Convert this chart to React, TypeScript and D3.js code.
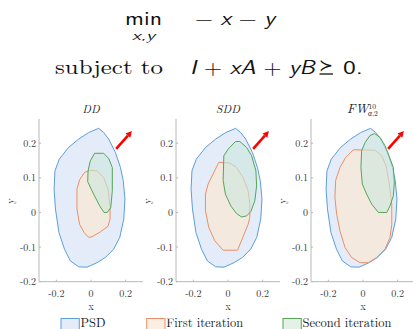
import React, { useEffect, useRef } from 'react'
import * as d3 from 'd3'

type Pt = [number, number]

// PSD region, same in all three panels
const psdRegion: Pt[] = [
  [0.044, 0.243], [-0.013, 0.231], [-0.071, 0.212], [-0.129, 0.188], [-0.183, 0.154],
  [-0.208, 0.120], [-0.213, 0.067], [-0.205, 0.010], [-0.185, -0.058], [-0.153, -0.106],
  [-0.119, -0.140], [-0.071, -0.157], [-0.023, -0.158], [0.035, -0.145], [0.083, -0.130],
  [0.131, -0.106], [0.166, -0.072], [0.189, -0.019], [0.196, 0.039], [0.186, 0.092],
  [0.170, 0.130], [0.141, 0.173], [0.102, 0.212], [0.073, 0.231],
]

// DD
const ddFirst: Pt[] = [
  [-0.004, 0.122], [0.035, 0.120], [0.073, 0.101], [0.098, 0.067], [0.110, 0.019],
  [0.110, -0.019], [0.098, -0.040], [0.054, -0.056], [0.006, -0.070], [-0.013, -0.072],
  [-0.040, -0.058], [-0.066, -0.034], [-0.081, 0.010], [-0.081, 0.067], [-0.066, 0.094],
  [-0.037, 0.116],
]
const ddSecond: Pt[] = [
  [0.021, 0.171], [0.073, 0.171], [0.102, 0.156], [0.123, 0.130], [0.123, 0.063],
  [0.114, 0.014], [0.094, 0.0], [0.075, 0.0], [0.050, 0.019], [0.015, 0.053],
  [-0.019, 0.089], [-0.017, 0.120], [-0.004, 0.149],
]

// SDD
const sddFirst: Pt[] = [
  [-0.053, 0.145], [0.010, 0.143], [0.049, 0.130], [0.087, 0.101], [0.116, 0.063],
  [0.126, 0.024], [0.126, -0.014], [0.116, -0.034], [0.093, -0.063], [0.055, -0.109],
  [-0.028, -0.109], [-0.076, -0.082], [-0.111, -0.043], [-0.130, 0.005], [-0.130, 0.053],
  [-0.115, 0.082], [-0.086, 0.111],
]
const sddSecond: Pt[] = [
  [0.043, 0.205], [0.068, 0.205], [0.107, 0.188], [0.136, 0.164], [0.161, 0.120],
  [0.165, 0.077], [0.155, 0.034], [0.132, 0.003], [0.107, -0.010], [0.078, -0.013],
  [0.049, -0.003], [0.016, 0.019], [-0.015, 0.053], [-0.028, 0.092], [-0.024, 0.164],
  [0.001, 0.183],
]

// FW
const fwFirst: Pt[] = [
  [-0.056, 0.181], [0.069, 0.180], [0.108, 0.164], [0.133, 0.135], [0.150, 0.087],
  [0.166, 0.024], [0.166, -0.034], [0.156, -0.072], [0.127, -0.106], [0.079, -0.130],
  [0.031, -0.145], [-0.017, -0.145], [-0.066, -0.130], [-0.104, -0.101], [-0.133, -0.053],
  [-0.152, -0.005], [-0.162, 0.043], [-0.158, 0.092], [-0.133, 0.130], [-0.100, 0.159],
]
const fwSecond: Pt[] = [
  [0.066, 0.228], [0.098, 0.217], [0.127, 0.193], [0.150, 0.164], [0.175, 0.130],
  [0.181, 0.087], [0.175, 0.048], [0.156, 0.019], [0.137, 0.0], [0.089, 0.0],
  [0.050, 0.024], [0.021, 0.053], [-0.004, 0.082], [-0.012, 0.130], [-0.008, 0.178],
  [0.012, 0.202], [0.040, 0.222],
]

// objective direction arrow
const arrowFrom: Pt = [0.145, 0.184]
const arrowTo: Pt = [0.236, 0.235]

const xTicks = [-0.2, 0, 0.2]
const yTicks = [-0.2, -0.1, 0, 0.1, 0.2]
const xDomain: Pt = [-0.3, 0.3]
const yDomain: Pt = [-0.2, 0.27]

const legendLabels = ['PSD', 'First iteration', 'Second iteration']

const panels = [
  { name: 'DD', first: ddFirst, second: ddSecond },
  { name: 'SDD', first: sddFirst, second: sddSecond },
  { name: 'FW', first: fwFirst, second: fwSecond },
]

const styles = [
  { stroke: '#5b9fd8', fill: '#e4ecf9', box: '#e4ecf9' },
  { stroke: '#ea8f6a', fill: 'rgba(251,232,212,0.7)', box: '#fceee2' },
  { stroke: '#56a556', fill: 'rgba(204,231,221,0.6)', box: '#e3f1e6' },
]

const W = 413
const H = 329
const serif = "'Latin Modern Roman', 'Liberation Serif', serif"
const sans = "'Latin Modern Sans', 'DejaVu Sans', sans-serif"

const fmt = (t: number) => (t === 0 ? '0' : d3.format('.1f')(t).replace('−', '-'))

const App = () => {
  const ref = useRef<SVGGElement>(null)

  useEffect(() => {
    const root = d3.select(ref.current)
    root.selectAll('*').remove()

    const panelLeft = [39, 176, 311]
    const plotW = 104
    const top = 119
    const bottom = 281.7

    panels.forEach((p, i) => {
      const x = d3.scaleLinear().domain(xDomain).range([panelLeft[i], panelLeft[i] + plotW])
      const y = d3.scaleLinear().domain(yDomain).range([bottom, top])
      const g = root.append('g')

      const line = d3.line<Pt>()
        .x(d => x(d[0]))
        .y(d => y(d[1]))
        .curve(d3.curveLinearClosed)

      const regions = [psdRegion, p.first, p.second]
      regions.forEach((r, k) => {
        g.append('path')
          .attr('d', line(r))
          .attr('fill', styles[k].fill)
          .attr('stroke', styles[k].stroke)
          .attr('stroke-width', 1)
          .attr('stroke-linejoin', 'round')
      })

      // arrow
      const x1 = x(arrowFrom[0]), y1 = y(arrowFrom[1])
      const x2 = x(arrowTo[0]), y2 = y(arrowTo[1])
      const len = Math.hypot(x2 - x1, y2 - y1)
      const ux = (x2 - x1) / len, uy = (y2 - y1) / len
      const head = 6, hw = 3.2
      const bx = x2 - ux * head, by = y2 - uy * head
      g.append('line')
        .attr('x1', x1).attr('y1', y1)
        .attr('x2', bx).attr('y2', by)
        .attr('stroke', '#ff0000')
        .attr('stroke-width', 2.6)
      g.append('path')
        .attr('d', `M${x2},${y2}L${bx - uy * hw},${by + ux * hw}L${bx + uy * hw},${by - ux * hw}Z`)
        .attr('fill', '#ff0000')

      // axes (left + bottom only)
      const axisColor = '#b8b8b8'
      g.append('line')
        .attr('x1', panelLeft[i]).attr('x2', panelLeft[i])
        .attr('y1', top).attr('y2', bottom)
        .attr('stroke', axisColor)
      g.append('line')
        .attr('x1', panelLeft[i]).attr('x2', panelLeft[i] + plotW)
        .attr('y1', bottom).attr('y2', bottom)
        .attr('stroke', axisColor)

      yTicks.forEach(t => {
        g.append('line')
          .attr('x1', panelLeft[i]).attr('x2', panelLeft[i] + 2)
          .attr('y1', y(t)).attr('y2', y(t))
          .attr('stroke', axisColor)
        g.append('text')
          .attr('x', panelLeft[i] - 3)
          .attr('y', y(t))
          .attr('dy', '0.35em')
          .attr('text-anchor', 'end')
          .style('font-family', serif)
          .attr('font-size', 10)
          .attr('fill', '#333')
          .text(fmt(t))
      })
      xTicks.forEach(t => {
        g.append('line')
          .attr('x1', x(t)).attr('x2', x(t))
          .attr('y1', bottom).attr('y2', bottom - 2)
          .attr('stroke', axisColor)
        g.append('text')
          .attr('x', x(t))
          .attr('y', 296.5)
          .attr('text-anchor', 'middle')
          .style('font-family', serif)
          .attr('font-size', 10)
          .attr('fill', '#333')
          .text(fmt(t))
      })

      // axis labels
      g.append('text')
        .attr('x', x(0))
        .attr('y', 309.5)
        .attr('text-anchor', 'middle')
        .style('font-family', serif)
        .attr('font-size', 10.5)
        .attr('fill', '#333')
        .text('x')
      g.append('text')
        .attr('transform', `translate(${panelLeft[i] - 29},201) rotate(-90)`)
        .attr('text-anchor', 'middle')
        .attr('dy', '0.35em')
        .style('font-family', serif)
        .attr('font-size', 10.5)
        .attr('fill', '#333')
        .text('y')

      // panel title
      const title = g.append('text')
        .attr('y', 113)
        .style('font-family', serif)
        .attr('font-style', 'italic')
        .attr('fill', '#222')
      if (p.name === 'FW') {
        title.attr('x', x(0) - 16).attr('font-size', 13)
        title.append('tspan').text('FW')
        title.append('tspan')
          .attr('font-size', 7.5).attr('font-style', 'normal')
          .attr('dy', -4.5).text('10')
        title.append('tspan')
          .attr('font-size', 7.5).attr('dx', -8).attr('dy', 7).text('α')
        title.append('tspan')
          .attr('font-size', 7.5).attr('font-style', 'normal').text(',2')
      } else {
        title.attr('x', x(0)).attr('font-size', 11.5).attr('text-anchor', 'middle').text(p.name)
      }
    })

    // legend
    const legendX = [61, 146.7, 283]
    legendLabels.forEach((l, k) => {
      root.append('rect')
        .attr('x', legendX[k]).attr('y', 318.5)
        .attr('width', 18.3).attr('height', 13)
        .attr('fill', styles[k].box)
        .attr('stroke', styles[k].stroke)
        .attr('stroke-width', 1)
      root.append('text')
        .attr('x', legendX[k] + 19.5)
        .attr('y', 327)
        .style('font-family', serif)
        .attr('font-size', 12.5)
        .attr('fill', '#222')
        .text(l)
    })
  }, [])

  return (
    <svg width={W} height={H} style={{ position: 'absolute', left: 0, top: 0, background: '#fff' }}>
      {/* optimisation problem */}
      <g fill="#111">
        <text x={125} y={25} style={{ fontFamily: sans }} fontSize={19} textLength={37} lengthAdjust="spacingAndGlyphs">min</text>
        <text x={132} y={39.5} style={{ fontFamily: sans }} fontSize={12} fontStyle="italic" textLength={23} lengthAdjust="spacingAndGlyphs">x,y</text>
        <text x={195} y={25} style={{ fontFamily: sans }} fontSize={19} textLength={80} lengthAdjust="spacingAndGlyphs">
          − <tspan fontStyle="italic">x</tspan> − <tspan fontStyle="italic">y</tspan>
        </text>
        <text x={55} y={74} style={{ fontFamily: serif }} fontSize={20} textLength={108} lengthAdjust="spacingAndGlyphs">subject to</text>
        <text x={190} y={74} style={{ fontFamily: sans }} fontSize={19} textLength={125} lengthAdjust="spacingAndGlyphs">
          <tspan fontStyle="italic">I</tspan> + <tspan fontStyle="italic">xA</tspan> + <tspan fontStyle="italic">yB</tspan>
        </text>
        <text x={319} y={71} style={{ fontFamily: sans }} fontSize={17} textLength={14} lengthAdjust="spacingAndGlyphs">≻</text>
        <line x1={319.5} x2={333} y1={74} y2={74} stroke="#111" strokeWidth={1.3} />
        <text x={343} y={74} style={{ fontFamily: sans }} fontSize={19} textLength={20} lengthAdjust="spacingAndGlyphs">0.</text>
      </g>
      <g ref={ref} />
    </svg>
  )
}

export default App
